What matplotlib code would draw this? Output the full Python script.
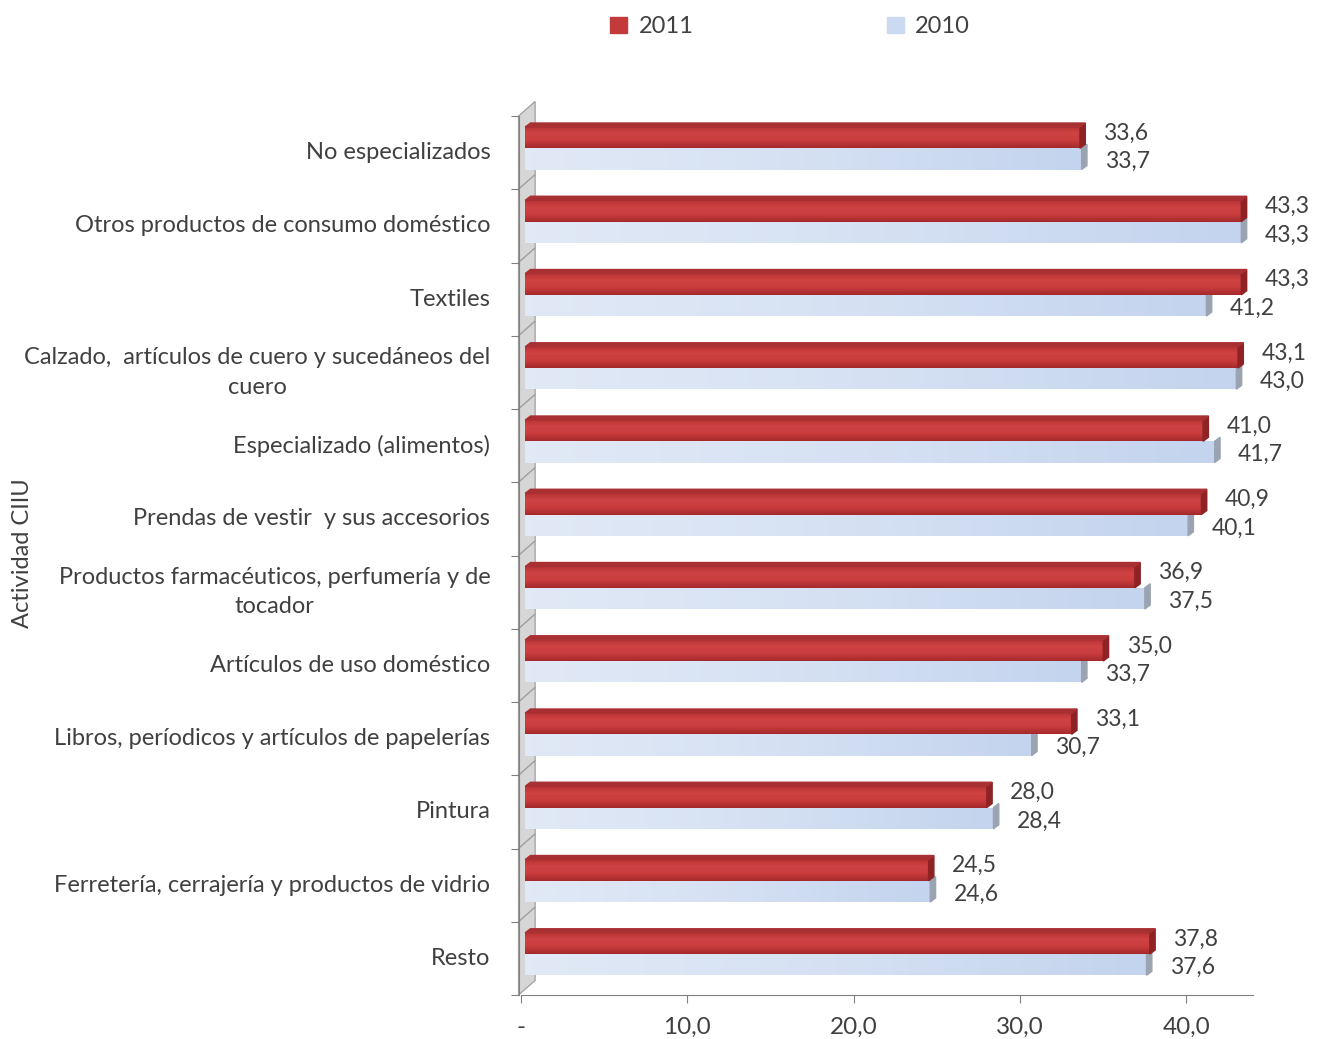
import numpy as np
import matplotlib.pyplot as plt
from matplotlib.patches import Polygon, Patch
from matplotlib.colors import LinearSegmentedColormap
import matplotlib.transforms as mtransforms

plt.rcParams['font.family'] = ['Lato', 'DejaVu Sans']

# datos
categorias = ["No especializados",
              "Otros productos de consumo doméstico",
              "Textiles",
              "Calzado,  artículos de cuero y sucedáneos del\ncuero",
              "Especializado (alimentos)",
              "Prendas de vestir  y sus accesorios",
              "Productos farmacéuticos, perfumería y de\ntocador",
              "Artículos de uso doméstico",
              "Libros, períodicos y artículos de papelerías",
              "Pintura",
              "Ferretería, cerrajería y productos de vidrio",
              "Resto"]
valores_2011 = [33.6, 43.3, 43.3, 43.1, 41.0, 40.9, 36.9, 35.0, 33.1, 28.0, 24.5, 37.8]
valores_2010 = [33.7, 43.3, 41.2, 43.0, 41.7, 40.1, 37.5, 33.7, 30.7, 28.4, 24.6, 37.6]
ticks_x = [0, 10, 20, 30, 40]
etiquetas_x = ["-", "10,0", "20,0", "30,0", "40,0"]

rojo = "#C33A3A"
rojo_osc = "#8E2224"
azul = "#CCDAF1"
azul_lado = "#9AA4B1"
texto = "#404040"

cmap_rojo = LinearSegmentedColormap.from_list("r", ["#B83234", "#CF4343", "#C83C3D", "#A4292B"])
cmap_azul = LinearSegmentedColormap.from_list("a", ["#E1E9F6", "#D5E1F3", "#C4D4EE"])

fig = plt.figure(figsize=(13.17, 10.39), dpi=100)
ax = fig.add_axes([0.3956, 0.0423, 0.5558, 0.846])

y = np.arange(len(categorias))
h = 0.29
dx, dy = 0.32, 0.055  # profundidad 3D
x0 = 0.25

def barra(yc, v, lado, cmap, vertical):
    b = ax.barh(yc, v - x0, left=x0, height=h, color='none', edgecolor='none', zorder=3)[0]
    if vertical:
        grad = np.linspace(0, 1, 50).reshape(-1, 1)
    else:
        grad = np.linspace(0, 1, 50).reshape(1, -1)
    im = ax.imshow(grad, cmap=cmap, aspect='auto', zorder=3,
                   extent=(x0, v, yc + h/2, yc - h/2), interpolation='bilinear')
    im.set_clip_path(b)
    # cara lateral
    ax.add_patch(Polygon([(v, yc - h/2), (v + dx, yc - h/2 - dy),
                          (v + dx, yc + h/2 - dy), (v, yc + h/2)],
                         closed=True, color=lado, zorder=3, clip_on=False))

for i in range(len(categorias)):
    yr = y[i] - 0.205
    yb = y[i] + 0.085
    barra(yb, valores_2010[i], azul_lado, cmap_azul, False)
    barra(yr, valores_2011[i], rojo_osc, cmap_rojo, True)
    # tapa superior de la barra roja
    v = valores_2011[i]
    ax.add_patch(Polygon([(x0, yr - h/2), (x0 + dx, yr - h/2 - dy),
                          (v + dx, yr - h/2 - dy), (v, yr - h/2)],
                         closed=True, color="#A93032", zorder=3, clip_on=False))
    ax.text(valores_2011[i] + 1.4, yr - 0.06, f"{valores_2011[i]:.1f}".replace(".", ","),
            va='center', ha='left', fontsize=16.5, color=texto)
    ax.text(valores_2010[i] + 1.4, yb + 0.04, f"{valores_2010[i]:.1f}".replace(".", ","),
            va='center', ha='left', fontsize=16.5, color=texto)

# pared lateral gris
for i in range(len(categorias)):
    y_top = i - 0.5
    ax.add_patch(Polygon([(-0.15, y_top + 1), (-0.15, y_top), (0.85, y_top - 0.2),
                          (0.85, y_top + 0.8)],
                         closed=True, facecolor="#D6D6D6", edgecolor="#A0A0A0",
                         lw=0.9, zorder=1, clip_on=False))

# etiquetas de categorias
trans = mtransforms.blended_transform_factory(ax.transAxes, ax.transData)
for i, c in enumerate(categorias):
    ax.text(-0.042, y[i], c, transform=trans, ha='right', va='center',
            multialignment='center', fontsize=17, color=texto, linespacing=1.5)

ax.set_ylim(len(categorias) - 0.5, -0.5)
ax.set_xlim(0, 44)
ax.set_yticks(np.arange(len(categorias) + 1) - 0.5)
ax.set_yticklabels([])
ax.tick_params(axis='y', length=6, color="#808080")
ax.set_xticks(ticks_x)
ax.set_xticklabels(etiquetas_x, fontsize=17.5, color=texto)
ax.tick_params(axis='x', length=6, color="#808080", pad=10)

for s in ['top', 'right']:
    ax.spines[s].set_visible(False)
ax.spines['left'].set_color("#808080")
ax.spines['bottom'].set_color("#808080")
ax.spines['left'].set_position(('data', -0.15))

fig.text(0.017, 0.468, "Actividad CIIU", rotation=90, va='center', ha='center',
         fontsize=17, color=texto)

fig.legend(handles=[Patch(color=rojo, label="2011"), Patch(color=azul, label="2010")],
           loc='upper center', bbox_to_anchor=(0.6, 0.998), ncol=2, frameon=False,
           fontsize=17, handlelength=0.7, handleheight=0.7, columnspacing=8.2,
           handletextpad=0.5, labelcolor=texto, borderaxespad=0.2)

fig.savefig("out.png", dpi=100)
